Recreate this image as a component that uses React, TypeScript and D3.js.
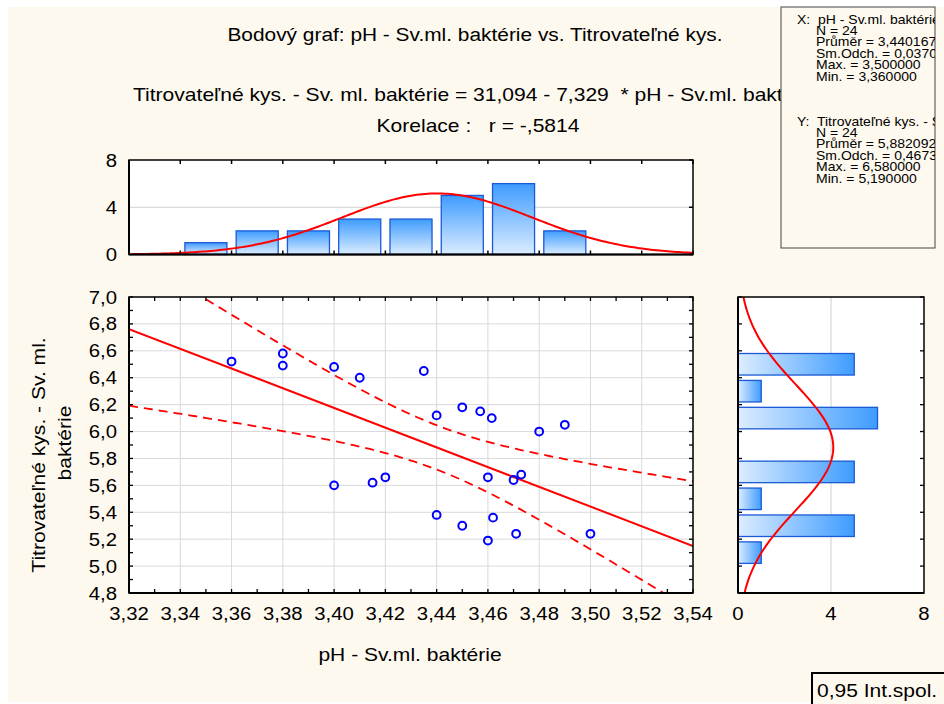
import React from "react";
import * as d3 from "d3";

// ---- data ----
const xVals = [3.36, 3.38, 3.38, 3.40, 3.41, 3.40, 3.415, 3.42, 3.435, 3.44, 3.45, 3.457, 3.4615, 3.48, 3.49, 3.46, 3.47, 3.473, 3.44, 3.45, 3.462, 3.46, 3.471, 3.50];
const yVals = [6.52, 6.58, 6.49, 6.48, 6.40, 5.60, 5.62, 5.66, 6.45, 6.12, 6.18, 6.15, 6.10, 6.00, 6.05, 5.66, 5.64, 5.68, 5.38, 5.30, 5.36, 5.19, 5.24, 5.24];
const xBinCenters = [3.35, 3.37, 3.39, 3.41, 3.43, 3.45, 3.47, 3.49];
const xBinCounts = [1, 2, 2, 3, 3, 5, 6, 2];
const yBinCenters = [5.1, 5.3, 5.5, 5.7, 5.9, 6.1, 6.3, 6.5];
const yBinCounts = [1, 5, 1, 5, 0, 6, 1, 5];
const xTickVals = [3.32, 3.34, 3.36, 3.38, 3.40, 3.42, 3.44, 3.46, 3.48, 3.50, 3.52, 3.54];
const yTickVals = [4.8, 5.0, 5.2, 5.4, 5.6, 5.8, 6.0, 6.2, 6.4, 6.6, 6.8, 7.0];
const histTickVals = [0, 4, 8];
const statsXHead = "X:  pH - Sv.ml. baktérie";
const statsX = ["N = 24", "Průměr = 3,440167", "Sm.Odch. = 0,037052", "Max. = 3,500000", "Min. = 3,360000"];
const statsYHead = "Y:  Titrovateľné kys. - Sv. ml. baktérie";
const statsY = ["N = 24", "Průměr = 5,882092", "Sm.Odch. = 0,467349", "Max. = 6,580000", "Min. = 5,190000"];
const regIntercept = 31.094;
const regSlope = -7.329;
const corrR = -0.5814;
const nObs = 24;
const xMean = 3.440167, xSd = 0.03705;
const yMean = 5.882092, ySd = 0.4673;
const tCrit = 2.0739;
const xBinW = 0.02, yBinW = 0.2;

const FONT = "'Liberation Sans', Arial, sans-serif";
const BG = "#fef9ee";
const fmt2 = (v: number) => d3.format(".2f")(v).replace(".", ",");
const fmt1 = (v: number) => d3.format(".1f")(v).replace(".", ",");

function T(props: { x: number; y: number; anchor?: string; size?: number; sx?: number; rot?: number; children: any }) {
  const { x, y, anchor = "start", size = 18, sx = 1.15, rot = 0, children } = props;
  return (
    <text transform={`translate(${x},${y}) rotate(${rot}) scale(${sx},1)`} textAnchor={anchor as any} fontSize={size}
      fill="#000" style={{ whiteSpace: "pre" }}>{children}</text>
  );
}

export default function App() {
  const mL = 129, mR = 693, mT = 297, mB = 593;
  const hT = 160, hB = 254.5;
  const rL = 738, rR = 924;

  const x = d3.scaleLinear().domain([3.32, 3.54]).range([mL, mR]);
  const y = d3.scaleLinear().domain([4.8, 7.0]).range([mB, mT]);
  const hy = d3.scaleLinear().domain([0, 8]).range([hB, hT]);
  const rx = d3.scaleLinear().domain([0, 8]).range([rL, rR]);

  const norm = (v: number, m: number, s: number) => Math.exp(-0.5 * ((v - m) / s) ** 2) / (s * Math.sqrt(2 * Math.PI));

  const xs = d3.range(0, 201).map((i) => 3.32 + (0.22 * i) / 200);
  const ys = d3.range(0, 201).map((i) => 4.8 + (2.2 * i) / 200);

  const topCurve = d3.line<number>().x((v) => x(v)).y((v) => hy(nObs * xBinW * norm(v, xMean, xSd)))(xs) || "";
  const rightCurve = d3.line<number>().x((v) => rx(nObs * yBinW * norm(v, yMean, ySd))).y((v) => y(v))(ys) || "";

  const sRes = ySd * Math.sqrt(1 - corrR * corrR) * Math.sqrt((nObs - 1) / (nObs - 2));
  const sxx = (nObs - 1) * xSd * xSd;
  const half = (v: number) => tCrit * sRes * Math.sqrt(1 / nObs + ((v - xMean) ** 2) / sxx);
  const fit = (v: number) => regIntercept + regSlope * v;
  const regLine = d3.line<number>().x((v) => x(v)).y((v) => y(fit(v)))([3.32, 3.54]) || "";
  const upper = d3.line<number>().x((v) => x(v)).y((v) => y(fit(v) + half(v)))(xs) || "";
  const lower = d3.line<number>().x((v) => x(v)).y((v) => y(fit(v) - half(v)))(xs) || "";

  const minorX = d3.range(0, 23).map((i) => 3.32 + i * 0.01);
  const minorY = d3.range(0, 23).map((i) => 4.8 + i * 0.1);

  const bwX = x(3.32 + xBinW * 0.82) - x(3.32);
  const bhY = y(4.8) - y(4.8 + yBinW * 0.8);

  const lineH = 11.4;

  return (
    <svg width={944} height={704} style={{ display: "block", position: "absolute", left: 0, top: 0 }} fontFamily={FONT}>
      <defs>
        <linearGradient id="gV" x1="0" y1="0" x2="0" y2="1">
          <stop offset="0%" stopColor="#3f9cff" />
          <stop offset="100%" stopColor="#dcedff" />
        </linearGradient>
        <linearGradient id="gH" x1="0" y1="0" x2="1" y2="0">
          <stop offset="0%" stopColor="#dcedff" />
          <stop offset="100%" stopColor="#3f9cff" />
        </linearGradient>
        <clipPath id="cMain"><rect x={mL} y={mT} width={mR - mL} height={mB - mT} /></clipPath>
        <clipPath id="cTop"><rect x={mL} y={hT} width={mR - mL} height={hB - hT} /></clipPath>
        <clipPath id="cRight"><rect x={rL} y={mT} width={rR - rL} height={mB - mT} /></clipPath>
        <clipPath id="cStats"><rect x={781} y={7} width={154} height={241} /></clipPath>
      </defs>
      <rect x={0} y={0} width={944} height={704} fill="#ffffff" />
      <rect x={8} y={7} width={936} height={695} fill={BG} />

      {/* titles */}
      <T x={475} y={41} anchor="middle" size={18} sx={1.16}>Bodový graf: pH - Sv.ml. baktérie vs. Titrovateľné kys.</T>
      <T x={133} y={101} size={18} sx={1.17}>{"Titrovateľné kys. - Sv. ml. baktérie = 31,094 - 7,329  * pH - Sv.ml. baktérie"}</T>
      <T x={478} y={132} anchor="middle" size={18} sx={1.17}>{"Korelace :   r = -,5814"}</T>

      {/* top histogram */}
      <rect x={mL} y={hT} width={mR - mL} height={hB - hT} fill="#fff" />
      <line x1={mL} x2={mR} y1={hy(4)} y2={hy(4)} stroke="#cfcfcf" strokeWidth={1} />
      {xBinCenters.map((c, i) => (
        <rect key={"xb" + i} x={x(c) - bwX / 2} y={hy(xBinCounts[i])} width={bwX} height={hB - hy(xBinCounts[i])}
          fill="url(#gV)" stroke="#1a5ad6" strokeWidth={1.3} />
      ))}
      <path d={topCurve} fill="none" stroke="#ff0000" strokeWidth={2} clipPath="url(#cTop)" />
      {xTickVals.map((t, i) => (
        <g key={"ht" + i}>
          <line x1={x(t)} x2={x(t)} y1={hT} y2={hT + 4} stroke="#000" strokeWidth={1.5} />
          <line x1={x(t)} x2={x(t)} y1={hB} y2={hB - 4} stroke="#000" strokeWidth={1.5} />
        </g>
      ))}
      {histTickVals.map((t, i) => (
        <line key={"hyl" + i} x1={mR} x2={mR - 4} y1={hy(t)} y2={hy(t)} stroke="#000" strokeWidth={1.5} />
      ))}
      <rect x={mL} y={hT} width={mR - mL} height={hB - hT} fill="none" stroke="#000" strokeWidth={1.5} />
      <line x1={mL} x2={mR} y1={hB} y2={hB} stroke="#000" strokeWidth={2} />
      <line x1={mL} x2={mL} y1={hT} y2={hB} stroke="#000" strokeWidth={2} />
      {histTickVals.map((t, i) => (
        <T key={"hl" + i} x={117} y={hy(t) + 6.5} anchor="end" size={18} sx={1.13}>{String(t)}</T>
      ))}

      {/* main scatter */}
      <rect x={mL} y={mT} width={mR - mL} height={mB - mT} fill="#fff" />
      {xTickVals.map((t, i) => (
        <line key={"gx" + i} x1={x(t)} x2={x(t)} y1={mT} y2={mB} stroke="#d9d9d9" strokeWidth={1} />
      ))}
      {yTickVals.map((t, i) => (
        <line key={"gy" + i} x1={mL} x2={mR} y1={y(t)} y2={y(t)} stroke="#d9d9d9" strokeWidth={1} />
      ))}
      <g clipPath="url(#cMain)">
        <path d={regLine} fill="none" stroke="#ff0000" strokeWidth={2} />
        <path d={upper} fill="none" stroke="#ff0000" strokeWidth={1.8} strokeDasharray="9,6" />
        <path d={lower} fill="none" stroke="#ff0000" strokeWidth={1.8} strokeDasharray="9,6" />
      </g>
      {xVals.map((v, i) => (
        <circle key={"p" + i} cx={x(v)} cy={y(yVals[i])} r={3.9} fill="none" stroke="#0000ff" strokeWidth={2} />
      ))}
      {minorX.map((t, i) => (
        <g key={"mx" + i}>
          <line x1={x(t)} x2={x(t)} y1={mT} y2={mT + 4} stroke="#000" strokeWidth={1.3} />
          <line x1={x(t)} x2={x(t)} y1={mB} y2={mB - 4} stroke="#000" strokeWidth={1.3} />
        </g>
      ))}
      {minorY.map((t, i) => (
        <g key={"my" + i}>
          <line x1={mL} x2={mL + 4} y1={y(t)} y2={y(t)} stroke="#000" strokeWidth={1.3} />
          <line x1={mR} x2={mR - 4} y1={y(t)} y2={y(t)} stroke="#000" strokeWidth={1.3} />
        </g>
      ))}
      <rect x={mL} y={mT} width={mR - mL} height={mB - mT} fill="none" stroke="#000" strokeWidth={1.5} />
      <line x1={mL} x2={mR} y1={mB} y2={mB} stroke="#000" strokeWidth={2} />
      <line x1={mL} x2={mL} y1={mT} y2={mB} stroke="#000" strokeWidth={2} />
      {xTickVals.map((t, i) => (
        <T key={"xl" + i} x={x(t)} y={620} anchor="middle" size={18} sx={1.13}>{fmt2(t)}</T>
      ))}
      {yTickVals.map((t, i) => (
        <T key={"yl" + i} x={117} y={y(t) + 6.5} anchor="end" size={18} sx={1.13}>{fmt1(t)}</T>
      ))}
      <T x={410} y={661} anchor="middle" size={18} sx={1.17}>pH - Sv.ml. baktérie</T>
      <T x={45} y={455} anchor="middle" size={18} sx={1.17} rot={-90}>Titrovateľné kys. - Sv. ml.</T>
      <T x={71} y={443} anchor="middle" size={18} sx={1.17} rot={-90}>baktérie</T>

      {/* right histogram */}
      <rect x={rL} y={mT} width={rR - rL} height={mB - mT} fill="#fff" />
      <line x1={rx(4)} x2={rx(4)} y1={mT} y2={mB} stroke="#cfcfcf" strokeWidth={1} />
      {yBinCenters.map((c, i) => (
        yBinCounts[i] > 0 ? (
          <rect key={"yb" + i} x={rL} y={y(c) - bhY / 2} width={rx(yBinCounts[i]) - rL} height={bhY}
            fill="url(#gH)" stroke="#1a5ad6" strokeWidth={1.3} />
        ) : null
      ))}
      <path d={rightCurve} fill="none" stroke="#ff0000" strokeWidth={2} clipPath="url(#cRight)" />
      {yTickVals.map((t, i) => (
        <g key={"ry" + i}>
          <line x1={rL} x2={rL + 4} y1={y(t)} y2={y(t)} stroke="#000" strokeWidth={1.3} />
          <line x1={rR} x2={rR - 4} y1={y(t)} y2={y(t)} stroke="#000" strokeWidth={1.3} />
        </g>
      ))}
      <rect x={rL} y={mT} width={rR - rL} height={mB - mT} fill="none" stroke="#000" strokeWidth={1.5} />
      <line x1={rL} x2={rR} y1={mB} y2={mB} stroke="#000" strokeWidth={2} />
      <line x1={rL} x2={rL} y1={mT} y2={mB} stroke="#000" strokeWidth={2} />
      {histTickVals.map((t, i) => (
        <T key={"rl" + i} x={rx(t)} y={620} anchor="middle" size={18} sx={1.13}>{String(t)}</T>
      ))}

      {/* stats box */}
      <rect x={781} y={7} width={154} height={241} fill={BG} stroke="#444" strokeWidth={1} />
      <g clipPath="url(#cStats)">
        <T x={797} y={23.5} size={12.5} sx={1.12}>{statsXHead}</T>
        {statsX.map((s, i) => (
          <T key={"sx" + i} x={816} y={23.5 + (i + 1) * lineH} size={12.5} sx={1.12}>{s}</T>
        ))}
        <T x={797} y={125.5} size={12.5} sx={1.12}>{statsYHead}</T>
        {statsY.map((s, i) => (
          <T key={"sy" + i} x={816} y={125.5 + (i + 1) * lineH} size={12.5} sx={1.12}>{s}</T>
        ))}
      </g>

      {/* legend */}
      <rect x={812} y={673} width={140} height={40} fill={BG} stroke="#000" strokeWidth={2} />
      <T x={817} y={697} size={17.5} sx={1.2}>0,95 Int.spol.</T>
    </svg>
  );
}
